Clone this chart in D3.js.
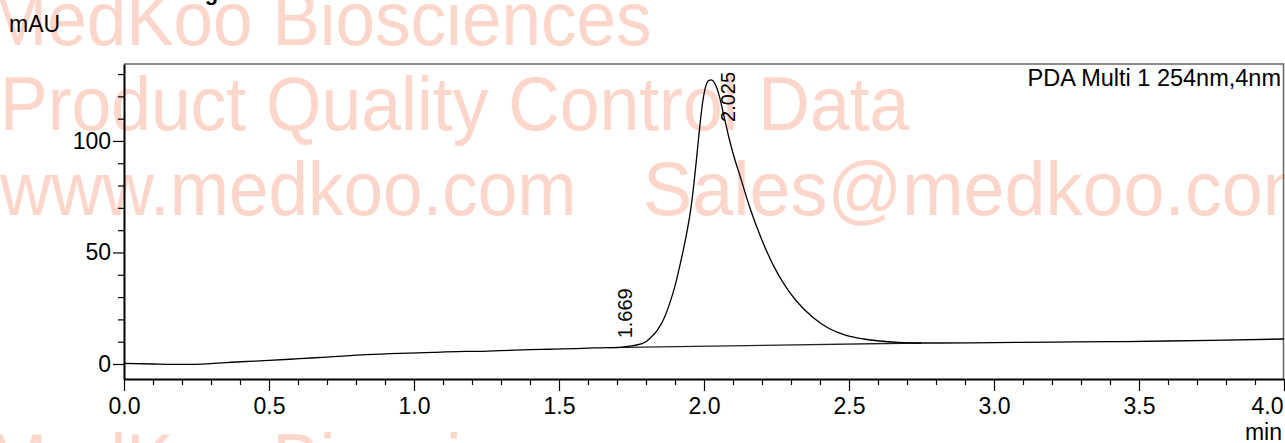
<!DOCTYPE html>
<html>
<head>
<meta charset="utf-8">
<script src="https://cdn.jsdelivr.net/npm/d3@7"></script>
<style>
  html, body { margin: 0; padding: 0; background: #fff; }
  svg { display: block; font-family: "Liberation Sans", Arial, sans-serif; }
</style>
</head>
<body>
<svg id="chart" width="1285" height="443"></svg>
<script>
// ---- data ----
const times = [0.00, 0.10, 0.20, 0.30, 0.40, 0.50, 0.606, 0.70, 0.836, 0.95, 1.065, 1.18, 1.24, 1.296, 1.40, 1.468, 1.55, 1.62, 1.669, 1.72, 1.76, 1.80, 1.82, 1.84, 1.86, 1.88, 1.90, 1.92, 1.94, 1.955, 1.965, 1.975, 1.985, 1.995, 2.005, 2.015, 2.025, 2.042, 2.055, 2.07, 2.085, 2.10, 2.125, 2.157, 2.20, 2.24, 2.28, 2.32, 2.375, 2.43, 2.49, 2.55, 2.605, 2.67, 2.743, 2.80, 3.00, 3.20, 3.41, 3.60, 3.75, 4.00];
const signal = [0.3, 0.0, -0.2, 0.2, 1.0, 1.6, 2.4, 3.1, 4.2, 4.8, 5.2, 5.7, 5.7, 6.0, 6.4, 6.6, 6.9, 7.2, 7.3, 7.6, 8.3, 10.0, 12.3, 15.3, 19.8, 26.5, 35.0, 46.0, 58.5, 70.0, 80.5, 93.0, 106.0, 117.0, 124.0, 127.0, 127.4, 124.5, 119.0, 110.5, 102.0, 94.5, 84.0, 70.5, 55.5, 44.0, 35.0, 28.0, 21.0, 16.0, 12.8, 11.2, 10.3, 9.7, 9.4, 9.4, 9.6, 9.8, 10.0, 10.3, 10.6, 11.2];
const baselineTimes = [1.669, 2.75];
const baselineValues = [7.3, 9.4];
const peakTimes = [1.669, 2.025];
const peakLabels = ["1.669", "2.025"];
const peakLabelLevels = [11.5, 108.5];
const xMajorTicks = [0, 0.5, 1.0, 1.5, 2.0, 2.5, 3.0, 3.5, 4.0];
const xTickLabels = ["0.0", "0.5", "1.0", "1.5", "2.0", "2.5", "3.0", "3.5", "4.0"];
const xMinorTicks = d3.range(0, 41).map(i => i / 10).filter(v => Math.abs(v * 2 - Math.round(v * 2)) > 1e-6);
const yMajorTicks = [0, 50, 100];
const yTickLabels = ["0", "50", "100"];
const yMinorTicks = [10, 20, 30, 40, 60, 70, 80, 90, 110, 120, 130];
const watermarkLines = ["MedKoo Biosciences", "Product Quality Control Data", "www.medkoo.com", "Sales@medkoo.com", "MedKoo Biosciences"];

// ---- layout ----
const svg = d3.select("#chart");
const L = 124, R = 1283.5, T = 64, B = 379;
const x = d3.scaleLinear().domain([0, 4]).range([L, 1284]);
const y = d3.scaleLinear().domain([-6.73, 134.5]).range([B, T]);

// ---- watermark ----
const wm = svg.append("g").attr("fill", "rgb(252,214,202)").style("font-size", "76px");
const wmPos = [[-12, 45, 0.935], [0, 130, 0.94], [0, 215, 0.935], [643, 215, 0.97], [-12, 487, 0.935]];
watermarkLines.forEach((t, i) => {
  wm.append("text").attr("transform", `translate(${wmPos[i][0]},${wmPos[i][1]}) scale(${wmPos[i][2]},1)`).text(t);
});

// ---- truncated title ----
svg.append("text").attr("x", 88).attr("y", 0).style("font-size", "22px").style("font-weight", "bold").text("<Chromatogram>");

// ---- frame ----
svg.append("path").attr("d", `M${L},${T}H${R}V${B}`).attr("fill", "none").attr("stroke", "#666").attr("stroke-width", 1.5);

// ---- axes ----
const fontSize = "23px";
const gx = svg.append("g").attr("transform", `translate(0,${B})`);
gx.call(d3.axisBottom(x).tickValues(xMajorTicks).tickSize(12).tickSizeOuter(0).tickPadding(7).tickFormat((d, i) => xTickLabels[i]));
const gxm = svg.append("g").attr("transform", `translate(0,${B})`);
gxm.call(d3.axisBottom(x).tickValues(xMinorTicks).tickSize(6).tickSizeOuter(0).tickFormat(""));
gxm.select(".domain").remove();
gx.selectAll(".tick text").filter((d, i) => i === xMajorTicks.length - 1).attr("text-anchor", "end").attr("dx", "-1");

const gy = svg.append("g").attr("transform", `translate(${L},0)`);
gy.call(d3.axisLeft(y).tickValues(yMajorTicks).tickSize(11).tickSizeOuter(0).tickPadding(2).tickFormat((d, i) => yTickLabels[i]));
const gym = svg.append("g").attr("transform", `translate(${L},0)`);
gym.call(d3.axisLeft(y).tickValues(yMinorTicks).tickSize(6).tickSizeOuter(0).tickFormat(""));
gym.select(".domain").remove();

svg.selectAll(".domain").attr("stroke", "#000").attr("stroke-width", 2);
svg.selectAll(".tick line").attr("stroke", "#000").attr("stroke-width", 1.2);
svg.selectAll(".tick text").attr("fill", "#000").style("font-size", fontSize).style("font-family", '"Liberation Sans", Arial, sans-serif');

// ---- axis titles ----
svg.append("text").attr("x", 9).attr("y", 32).style("font-size", "23px").text("mAU");
svg.append("text").attr("x", 1282).attr("y", 440).attr("text-anchor", "end").style("font-size", "23px").text("min");
svg.append("text").attr("x", 1281).attr("y", 86).attr("text-anchor", "end").style("font-size", "23.5px").text("PDA Multi 1 254nm,4nm");

// ---- integration baseline ----
svg.append("path")
  .datum(baselineTimes.map((t, i) => [t, baselineValues[i]]))
  .attr("d", d3.line().x(d => x(d[0])).y(d => y(d[1])))
  .attr("fill", "none").attr("stroke", "#222").attr("stroke-width", 1.3);

// ---- chromatogram ----
svg.append("path")
  .datum(times.map((t, i) => [t, signal[i]]))
  .attr("d", d3.line().x(d => x(d[0])).y(d => y(d[1])).curve(d3.curveMonotoneX))
  .attr("fill", "none").attr("stroke", "#000").attr("stroke-width", 1.3);

// ---- peak labels ----
peakTimes.forEach((t, i) => {
  svg.append("text")
    .attr("transform", `translate(${x(t) + 24},${y(peakLabelLevels[i])}) rotate(-90)`)
    .style("font-size", "20px")
    .text(peakLabels[i]);
});
</script>
</body>
</html>
